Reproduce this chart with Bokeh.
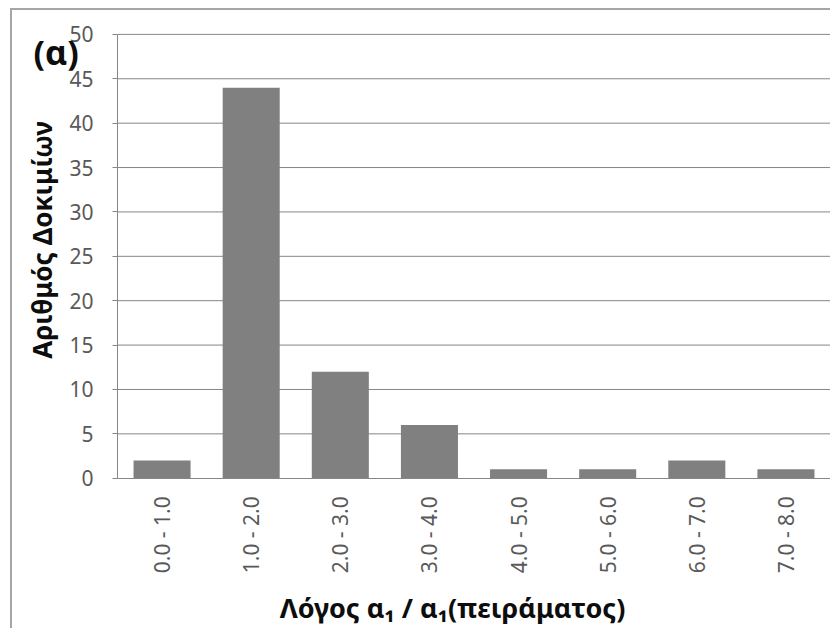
import numpy as np
from math import pi
from bokeh.plotting import figure
from bokeh.models import Label, FixedTicker, Range1d
from bokeh.embed import file_html
from bokeh.resources import INLINE

categories = ["0.0 - 1.0", "1.0 - 2.0", "2.0 - 3.0", "3.0 - 4.0",
              "4.0 - 5.0", "5.0 - 6.0", "6.0 - 7.0", "7.0 - 8.0"]
counts = [2, 44, 12, 6, 1, 1, 2, 1]
y_ticks = [0, 5, 10, 15, 20, 25, 30, 35, 40, 45, 50]

xs = np.arange(len(categories)) + 0.5
n = len(categories)
ymax = y_ticks[-1]
FONT = "Noto Sans"

# The frame covers the whole canvas; axes are pinned at x=0 / y=0 so that the
# titles (which sit outside the bar area) are not clipped.
p = figure(width=820, height=620, output_backend="svg", toolbar_location=None,
           x_range=Range1d(-1.1781, n + 0.0224), y_range=Range1d(-17.152, 52.691),
           min_border_left=0, min_border_right=0, min_border_top=0,
           min_border_bottom=0)
p.styles = {"border-left": "2px solid #a6a6a6", "border-top": "2px solid #a6a6a6",
            "margin-left": "10px", "margin-top": "8px"}
p.outline_line_color = None
p.background_fill_color = "white"
p.border_fill_color = "white"
p.xgrid.visible = False
p.ygrid.visible = False

# horizontal gridlines across the bar area only
p.segment(x0=0, x1=n, y0=y_ticks[1:], y1=y_ticks[1:], line_color="#868686",
          line_width=1)

p.vbar(x=xs, top=counts, width=0.64, fill_color="#808080", line_color=None)

# x axis
xa = p.xaxis[0]
xa.fixed_location = 0
xa.bounds = (0, n)
xa.ticker = FixedTicker(ticks=list(xs))
xa.major_label_overrides = {float(x): c for x, c in zip(xs, categories)}
xa.major_label_orientation = pi / 2
xa.major_tick_out = 0
xa.major_tick_in = 0
xa.minor_tick_line_color = None
xa.major_label_standoff = 18
xa.axis_line_color = "#868686"
xa.major_label_text_font = FONT
xa.major_label_text_font_size = "21px"
xa.major_label_text_color = "#595959"

# y axis
ya = p.yaxis[0]
ya.fixed_location = 0
ya.bounds = (0, ymax)
ya.ticker = FixedTicker(ticks=y_ticks)
ya.major_tick_out = 5
ya.major_tick_in = 0
ya.minor_tick_line_color = None
ya.major_tick_line_color = "#868686"
ya.axis_line_color = "#868686"
ya.major_label_standoff = 19
ya.major_label_text_font = FONT
ya.major_label_text_font_size = "21px"
ya.major_label_text_color = "#595959"

# titles
p.add_layout(Label(x=-0.847, y=26.85, text="Αριθμός Δοκιμίων", angle=pi / 2,
                   text_align="center", text_baseline="middle",
                   text_font=FONT, text_font_style="bold", text_font_size="26px",
                   text_color="#0d0d0d"))
p.add_layout(Label(x=3.759, y=-14.52, text="Λόγος α₁ / α₁(πειράματος)",
                   text_align="center", text_baseline="middle",
                   text_font=FONT, text_font_style="bold", text_font_size="27px",
                   text_color="#0d0d0d"))
p.add_layout(Label(x=-0.9425, y=48.0, text="(α)",
                   text_align="left", text_baseline="middle",
                   text_font=FONT, text_font_style="bold", text_font_size="34px",
                   text_color="#0d0d0d"))

open("out.html", "w").write(file_html(p, INLINE))
